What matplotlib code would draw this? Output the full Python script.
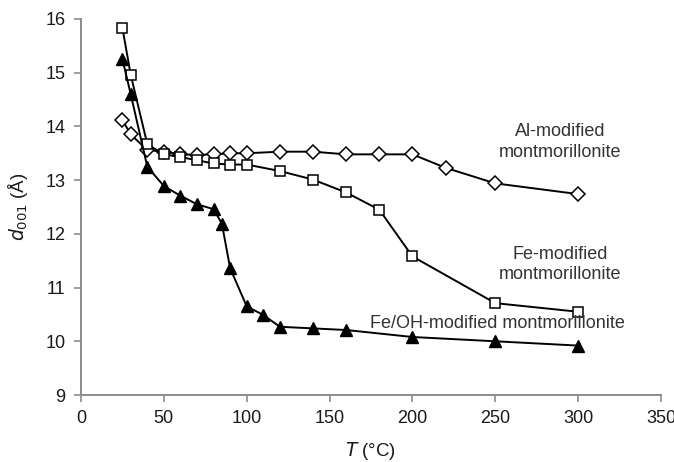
import matplotlib
matplotlib.use("Agg")
from matplotlib import pyplot as plt

plt.rcParams['font.family'] = ['Liberation Sans', 'DejaVu Sans']

# Al-modified montmorillonite (open diamonds)
al_t = [25, 30, 40, 50, 60, 70, 80, 90, 100, 120, 140, 160, 180, 200, 220, 250, 300]
al_d = [14.12, 13.85, 13.56, 13.53, 13.48, 13.47, 13.48, 13.5, 13.5, 13.53, 13.53, 13.48, 13.48, 13.48, 13.23, 12.94, 12.74]

# Fe-modified montmorillonite (open squares)
fe_t = [25, 30, 40, 50, 60, 70, 80, 90, 100, 120, 140, 160, 180, 200, 250, 300]
fe_d = [15.83, 14.96, 13.67, 13.48, 13.43, 13.37, 13.31, 13.29, 13.29, 13.17, 13.01, 12.77, 12.45, 11.58, 10.71, 10.55]

# Fe/OH-modified montmorillonite (filled triangles)
feoh_t = [25, 30, 40, 50, 60, 70, 80, 85, 90, 100, 110, 120, 140, 160, 200, 250, 300]
feoh_d = [15.25, 14.6, 13.25, 12.89, 12.71, 12.55, 12.46, 12.19, 11.36, 10.65, 10.49, 10.27, 10.24, 10.21, 10.08, 10.0, 9.92]

x_ticks = [0, 50, 100, 150, 200, 250, 300, 350]
y_ticks = [9, 10, 11, 12, 13, 14, 15, 16]

fig = plt.figure(figsize=(6.74, 4.62), dpi=100)
ax = fig.add_axes([0.1202, 0.145, 0.8605, 0.8139])

line_kw = dict(color='black', linewidth=1.4)
ax.plot(al_t, al_d, marker='D', markersize=7.5, markerfacecolor='white',
        markeredgecolor='black', markeredgewidth=1.1, **line_kw)
ax.plot(fe_t, fe_d, marker='s', markersize=6.5, markerfacecolor='white',
        markeredgecolor='black', markeredgewidth=1.1, **line_kw)
ax.plot(feoh_t, feoh_d, marker='^', markersize=8, markerfacecolor='black',
        markeredgecolor='black', **line_kw)

ax.set_xlim(0, 350)
ax.set_ylim(9, 16)
ax.set_xticks(x_ticks)
ax.set_yticks(y_ticks)

gray = '#8c8c8c'
for side in ('top', 'right'):
    ax.spines[side].set_visible(False)
for side in ('left', 'bottom'):
    ax.spines[side].set_color(gray)
    ax.spines[side].set_linewidth(1.4)
ax.tick_params(axis='both', direction='out', length=5, width=1.2, color=gray,
               labelsize=13, labelcolor='#1a1a1a', pad=6)

ax.set_xlabel(r'$\it{T}$ (°C)', fontsize=13.5, color='#1a1a1a', labelpad=9)
ax.set_ylabel(r'$\it{d}_{\rm 001}$ (Å)', fontsize=13.5, color='#1a1a1a', labelpad=11)

txt = dict(fontsize=13, color='#333333', ha='center', va='center', linespacing=1.25)
ax.text(289, 13.71, 'Al-modified\nmontmorillonite', **txt)
ax.text(289, 11.43, 'Fe-modified\nmontmorillonite', **txt)
ax.text(251, 10.34, 'Fe/OH-modified montmorillonite', **txt)

fig.savefig('out.png', dpi=100)
